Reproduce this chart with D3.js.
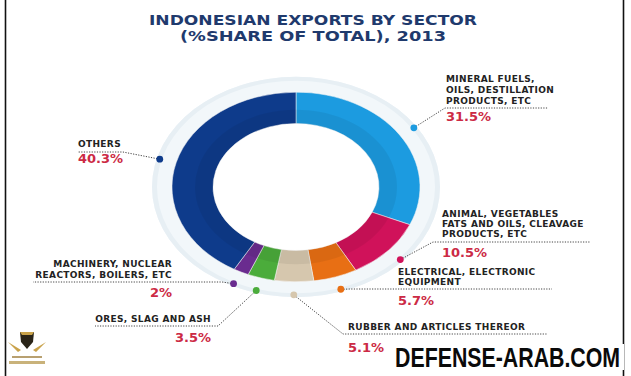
<!DOCTYPE html>
<html>
<head>
<meta charset="utf-8">
<script src="https://cdn.jsdelivr.net/npm/d3@7"></script>
<style>
  body { margin: 0; background: #fff; }
  svg { display: block; }
</style>
</head>
<body>
<div id="container"></div>
<script>
let w = 631;
let h = 376;

// data
let sectors = ["Mineral fuels", "Animal, vegetable fats", "Electrical equipment", "Rubber", "Ores, slag and ash", "Machinery", "Others"];
let shares = [31.5, 10.5, 5.7, 5.1, 3.5, 2, 40.3];
let shareLabels = ["31.5%", "10.5%", "5.7%", "5.1%", "3.5%", "2%", "40.3%"];
let labelLines = [
  ["MINERAL FUELS,", "OILS, DESTILLATION", "PRODUCTS, ETC"],
  ["ANIMAL, VEGETABLES", "FATS AND OILS, CLEAVAGE", "PRODUCTS, ETC"],
  ["ELECTRICAL, ELECTRONIC", "EQUIPMENT"],
  ["RUBBER AND ARTICLES THEREOR"],
  ["ORES, SLAG AND ASH"],
  ["MACHINERY, NUCLEAR", "REACTORS, BOILERS, ETC"],
  ["OTHERS"]
];
let colors = ["#1c9be0", "#d0125a", "#e86f14", "#d6c7ae", "#4bac3b", "#6a2c8f", "#0e3b8b"];
let titleLines = ["INDONESIAN EXPORTS BY SECTOR", "(%SHARE OF TOTAL), 2013"];

// where each callout sits (elbow of leader, end of dotted rule, text)
let callouts = [
  {ex: 445, ey: 108, end: 548, anchor: "start", tx: 446, ty: [82, 93, 104], py: 121},
  {ex: 433, ey: 242, end: 590, anchor: "start", tx: 442, ty: [217, 227, 237], py: 257},
  {ex: 350, ey: 289, end: 552, anchor: "start", tx: 398, ty: [275, 285], py: 305},
  {ex: 343, ey: 334, end: 547, anchor: "start", tx: 348, ty: [330], py: 352},
  {ex: 218, ey: 326, end: 95, anchor: "end", tx: 211, ty: [322], py: 342},
  {ex: 222, ey: 282, end: 33, anchor: "end", tx: 172, ty: [267, 278], py: 297},
  {ex: 123, ey: 152, end: 78, anchor: "start", tx: 78, ty: [147], py: 163}
];

let cx = 296, cy = 187, squash = 0.765;

let viz = d3.select("#container")
  .append("svg")
    .attr("width", w)
    .attr("height", h)
    .style("background-color", "white");

// frame lines
viz.append("line").attr("x1", 5.5).attr("x2", 5.5).attr("y1", 0).attr("y2", h)
  .attr("stroke", "#111").attr("stroke-width", 1.6);
viz.append("line").attr("x1", 623.5).attr("x2", 623.5).attr("y1", 0).attr("y2", h)
  .attr("stroke", "#111").attr("stroke-width", 1.6);

// title
viz.selectAll(".title").data(titleLines).enter().append("text")
  .attr("class", "title")
  .attr("x", 313)
  .attr("y", (d, i) => 25 + i * 15.5)
  .attr("text-anchor", "middle")
  .attr("textLength", (d, i) => i == 0 ? 328 : 266)
  .attr("lengthAdjust", "spacingAndGlyphs")
  .style("font-family", "DejaVu Sans")
  .style("font-weight", "bold")
  .style("font-size", "14px")
  .style("fill", "#1f3a6d")
  .text(d => d);

// donut, slices run clockwise from 12 o'clock on a 100% scale
let pie = d3.pie().sort(null).value(d => d)
  .endAngle(2 * Math.PI * d3.sum(shares) / 100);
let arcs = pie(shares);
arcs[arcs.length - 1].endAngle = 2 * Math.PI; // others closes the ring

let donut = viz.append("g")
  .attr("transform", "translate(" + cx + "," + cy + ") scale(1," + squash + ")");

// pale halo ring
donut.append("path")
  .attr("d", d3.arc().innerRadius(124).outerRadius(144).startAngle(0).endAngle(2 * Math.PI)())
  .attr("fill", "#f2f7fa");
donut.append("path")
  .attr("d", d3.arc().innerRadius(139).outerRadius(144).startAngle(0).endAngle(2 * Math.PI)())
  .attr("fill", "#e7eff4");

let arcGen = d3.arc().innerRadius(83).outerRadius(124);
donut.selectAll(".slice").data(arcs).enter().append("path")
  .attr("class", "slice")
  .attr("d", arcGen)
  .attr("fill", (d, i) => colors[i])
  .attr("stroke", "#f4f4f4")
  .attr("stroke-width", 0.6);

// darker inner band
let bandGen = d3.arc().innerRadius(83).outerRadius(101);
donut.selectAll(".band").data(arcs).enter().append("path")
  .attr("class", "band")
  .attr("d", bandGen)
  .attr("fill", "#000")
  .attr("opacity", 0.06);

// dots on the halo at slice middles
let dotR = 141;
function dotPos(d) {
  let a = (d.startAngle + d.endAngle) / 2;
  return [cx + dotR * Math.sin(a), cy - dotR * Math.cos(a) * squash];
}

let leaders = viz.append("g");
arcs.forEach(function (d, i) {
  let p = dotPos(d);
  let c = callouts[i];
  leaders.append("path")
    .attr("d", "M" + p[0] + "," + p[1] + "L" + c.ex + "," + c.ey + "L" + c.end + "," + c.ey)
    .attr("fill", "none")
    .attr("stroke", "#444")
    .attr("stroke-width", 1)
    .attr("stroke-dasharray", "1.2,1.4");
});

viz.selectAll(".dot").data(arcs).enter().append("circle")
  .attr("class", "dot")
  .attr("cx", d => dotPos(d)[0])
  .attr("cy", d => dotPos(d)[1])
  .attr("r", 3.4)
  .attr("fill", (d, i) => colors[i]);

// labels
callouts.forEach(function (c, i) {
  labelLines[i].forEach(function (line, j) {
    viz.append("text")
      .attr("x", c.tx)
      .attr("y", c.ty[j])
      .attr("text-anchor", c.anchor)
      .style("font-family", "DejaVu Sans")
      .style("font-weight", "bold")
      .style("font-size", "9px")
      .style("letter-spacing", "0.35px")
      .style("fill", "#222")
      .text(line);
  });
  viz.append("text")
    .attr("x", c.tx)
    .attr("y", c.py)
    .attr("text-anchor", c.anchor)
    .style("font-family", "DejaVu Sans")
    .style("font-weight", "bold")
    .style("font-size", "13px")
    .style("fill", "#cc2a45")
    .text(shareLabels[i]);
});

// watermark
viz.append("rect").attr("x", 392).attr("y", 344).attr("width", 232).attr("height", 26).attr("fill", "white");
viz.append("text")
  .attr("transform", "translate(395,367) scale(0.79,1)")
  .style("font-family", "Liberation Sans")
  .style("font-weight", "bold")
  .style("font-size", "27px")
  .style("fill", "#0a0a0a")
  .text("DEFENSE-ARAB.COM");

// small gold emblem bottom left
let logo = viz.append("g").attr("transform", "translate(27,346)");
logo.append("path").attr("d", "M-7,-14 L7,-14 L6,-4 L0,3 L-6,-4 Z").attr("fill", "#2a2418");
logo.append("path").attr("d", "M-7,-14 L7,-14 L5,-11 L-5,-11 Z").attr("fill", "#c9a24a");
logo.append("path").attr("d", "M-19,-4 L-6,4 L-9,6 Z M19,-4 L6,4 L9,6 Z").attr("fill", "#c9a24a");
logo.append("rect").attr("x", -15).attr("y", 10).attr("width", 30).attr("height", 2).attr("fill", "#b8a070");
logo.append("rect").attr("x", -18).attr("y", 15).attr("width", 36).attr("height", 3).attr("fill", "#c9b27a");
</script>
</body>
</html>
